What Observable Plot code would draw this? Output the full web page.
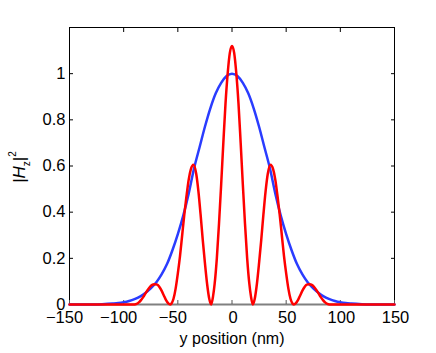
<!DOCTYPE html>
<html><head><meta charset="utf-8">
<script src="https://cdn.jsdelivr.net/npm/d3@7"></script>
<script src="https://cdn.jsdelivr.net/npm/@observablehq/plot@0.6"></script>
<style>body{margin:0;background:#fff}</style>
</head><body><div id="chart"></div>
<script>
const xTicks = [-150, -100, -50, 0, 50, 100, 150];
const xTickLabels = ["−150", "−100", "−50", "0", "50", "100", "150"];
const yTicks = [0, 0.2, 0.4, 0.6, 0.8, 1];
const yTickLabels = ["0", "0.2", "0.4", "0.6", "0.8", "1"];
const xLabel = "y position (nm)";

const blueX = [-150,-140,-130,-120,-110,-105,-100,-95,-90,-85,-80,-75,-70,-65,-60,-55,-50,-45,-40,-35,-30,-25,-20,-15,-10,-5,0,
  5,10,15,20,25,30,35,40,45,50,55,60,65,70,75,80,85,90,95,100,105,110,120,130,140,150];
const blueY = [0.0001,0.0002,0.0005,0.0015,0.004,0.006,0.0095,0.015,0.023,0.034,0.05,0.07,0.095,0.13,0.175,0.235,0.305,0.385,0.48,0.59,0.68,0.77,0.85,0.915,0.96,0.99,1.0,
  0.99,0.96,0.915,0.85,0.77,0.68,0.59,0.48,0.385,0.305,0.235,0.175,0.13,0.095,0.07,0.05,0.034,0.023,0.015,0.0095,0.006,0.004,0.0015,0.0005,0.0002,0.0001];

const redX = [-150,-120,-100,-92,-90,-88,-86,-84,-82,-80,-78,-76,-74,-71.5,-69,-67,-65,-63,-61,-59,-57,-55.5,-54,-52,-50,-48,-46,-44,-42,-40,-38,-35.5,-33,-31,-29,-27,-25,-23,-21,-19.2,-17.5,-16,-14,-12,-10,-8,-6,-4,-2,0,
  2,4,6,8,10,12,14,16,17.5,19.2,21,23,25,27,29,31,33,35.5,38,40,42,44,46,48,50,52,54,55.5,57,59,61,63,65,67,69,71.5,74,76,78,80,82,84,86,88,90,92,100,120,150];
const redY = [0,0,0,0,0.0005,0.003,0.009,0.019,0.032,0.047,0.062,0.075,0.084,0.088,0.086,0.076,0.06,0.04,0.02,0.006,0,0.007,0.025,0.07,0.135,0.21,0.30,0.39,0.47,0.54,0.585,0.605,0.565,0.49,0.39,0.28,0.18,0.09,0.025,0,0.035,0.09,0.20,0.35,0.52,0.70,0.87,1.0,1.09,1.12,
  1.09,1.0,0.87,0.70,0.52,0.35,0.20,0.09,0.035,0,0.025,0.09,0.18,0.28,0.39,0.49,0.565,0.605,0.585,0.54,0.47,0.39,0.30,0.21,0.135,0.07,0.025,0.007,0,0.006,0.02,0.04,0.06,0.076,0.086,0.088,0.084,0.075,0.062,0.047,0.032,0.019,0.009,0.003,0.0005,0,0,0,0];

const blue = blueX.map((x, i) => ({x, y: blueY[i]}));
const red = redX.map((x, i) => ({x, y: redY[i]}));
const font = "'Liberation Sans', Arial, Helvetica, sans-serif";
const negTicks = xTicks.filter(d => d < 0);
const posTicks = xTicks.filter(d => d >= 0);
const fmtX = d => xTickLabels[xTicks.indexOf(d)];

const chart = Plot.plot({
  width: 436, height: 353,
  marginLeft: 69, marginRight: 42, marginTop: 27, marginBottom: 49,
  style: {fontFamily: font, fontSize: "16.5px", background: "white", color: "black"},
  x: {domain: [-150, 150], label: null},
  y: {domain: [0, 1.2], label: null},
  marks: [
    Plot.ruleY([0], {stroke: "#808080", strokeWidth: 2}),
    Plot.ruleX([-150, 150], {stroke: "black", strokeWidth: 1}),
    Plot.ruleY([1.2], {stroke: "black", strokeWidth: 1}),
    Plot.axisX({anchor: "bottom", ticks: xTicks, tickSize: -4, stroke: "#555", tickFormat: () => "", label: null}),
    Plot.axisX({anchor: "bottom", ticks: negTicks, tickSize: 0, tickPadding: 7, dx: -5, tickFormat: fmtX, label: null}),
    Plot.axisX({anchor: "bottom", ticks: posTicks, tickSize: 0, tickPadding: 7, dx: 1, tickFormat: fmtX, label: null}),
    Plot.axisX({anchor: "top", ticks: xTicks, tickSize: -4, tickFormat: () => "", label: null}),
    Plot.axisY({anchor: "left", ticks: yTicks, tickSize: -4, tickPadding: 8,
      tickFormat: d => yTickLabels[yTicks.indexOf(d)], label: null}),
    Plot.axisY({anchor: "right", ticks: yTicks, tickSize: -4, tickFormat: () => "", label: null}),
    Plot.line(blue, {x: "x", y: "y", stroke: "#2a3cff", strokeWidth: 2.5, curve: "monotone-x"}),
    Plot.line(red, {x: "x", y: "y", stroke: "#ff0000", strokeWidth: 2.5, curve: "monotone-x"}),
    Plot.text([xLabel], {frameAnchor: "bottom", dy: 39, lineAnchor: "bottom", fontSize: 16, fill: "black"})
  ]
});

const svg = d3.select(chart);
const yl = svg.append("text")
  .attr("transform", "translate(25,167) rotate(-90)")
  .attr("text-anchor", "middle")
  .attr("font-family", font)
  .attr("font-size", 17)
  .attr("fill", "black");
yl.append("tspan").text("|");
yl.append("tspan").attr("font-style", "italic").text("H");
yl.append("tspan").attr("font-size", 10).attr("dy", 5).text("z");
yl.append("tspan").attr("dy", -5).text("|");
yl.append("tspan").attr("font-size", 10).attr("dy", -9).text("2");

document.getElementById("chart").appendChild(chart);
</script>
</body></html>
